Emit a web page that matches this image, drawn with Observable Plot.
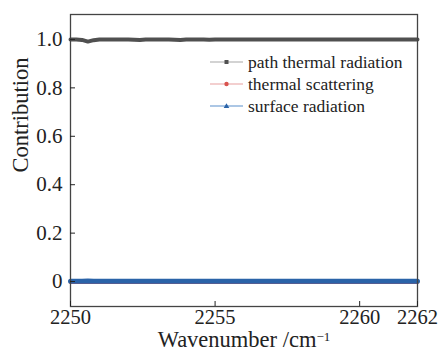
<!DOCTYPE html>
<html><head><meta charset="utf-8">
<script src="https://cdn.jsdelivr.net/npm/d3@7"></script>
<script src="https://cdn.jsdelivr.net/npm/@observablehq/plot@0.6"></script>
<style>
body{margin:0;background:#fff;}
#wrap{position:relative;width:442px;height:357px;font-family:"Liberation Serif",serif;}
#wrap svg text{font-family:"Liberation Serif",serif;}
#legend{position:absolute;left:205px;top:50px;}
</style></head><body>
<div id="wrap"></div>
<script>
const wavenumber = [2250.0,2250.2,2250.4,2250.6,2250.8,2251.0,2251.2,2251.4,2251.6,2251.8,
2252.0,2252.2,2252.4,2252.6,2252.8,2253.0,2253.2,2253.4,2253.6,2253.8,
2254.0,2254.2,2254.4,2254.6,2254.8,2255.0,2255.2,2255.4,2255.6,2255.8,
2256.0,2256.2,2256.4,2256.6,2256.8,2257.0,2257.2,2257.4,2257.6,2257.8,
2258.0,2258.2,2258.4,2258.6,2258.8,2259.0,2259.2,2259.4,2259.6,2259.8,
2260.0,2260.2,2260.4,2260.6,2260.8,2261.0,2261.2,2261.4,2261.6,2261.8,2262.0];
const pathThermal = [1.000,1.000,0.998,0.991,0.997,1.000,1.000,1.000,1.000,1.000,
1.000,0.999,0.998,1.000,1.000,1.000,1.000,1.000,0.999,0.998,
1.000,1.000,1.000,1.000,0.999,1.000,1.000,1.000,1.000,1.000,
1.000,1.000,1.000,1.000,1.000,1.000,1.000,1.000,1.000,1.000,
1.000,1.000,1.000,1.000,1.000,1.000,1.000,1.000,1.000,1.000,
1.000,1.000,1.000,1.000,1.000,1.000,1.000,1.000,1.000,1.000,1.000];
const thermalScattering = [-0.004,-0.004,-0.004,-0.004,-0.004,-0.004,-0.004,-0.004,-0.004,-0.004,
-0.004,-0.004,-0.004,-0.004,-0.004,-0.004,-0.004,-0.004,-0.004,-0.004,
-0.004,-0.004,-0.004,-0.004,-0.004,-0.004,-0.004,-0.004,-0.004,-0.004,
-0.004,-0.004,-0.004,-0.004,-0.004,-0.004,-0.004,-0.004,-0.004,-0.004,
-0.004,-0.004,-0.004,-0.004,-0.004,-0.004,-0.004,-0.004,-0.004,-0.004,
-0.004,-0.004,-0.004,-0.004,-0.004,-0.004,-0.004,-0.004,-0.004,-0.004,-0.004];
const surfaceRadiation = [0.001,0.001,0.001,0.002,0.001,0.001,0.001,0.001,0.001,0.001,
0.001,0.001,0.001,0.001,0.001,0.001,0.001,0.001,0.001,0.001,
0.001,0.001,0.001,0.001,0.001,0.001,0.001,0.001,0.001,0.001,
0.001,0.001,0.001,0.001,0.001,0.001,0.001,0.001,0.001,0.001,
0.001,0.001,0.001,0.001,0.001,0.001,0.001,0.001,0.001,0.001,
0.001,0.001,0.001,0.001,0.001,0.001,0.001,0.001,0.001,0.001,0.001];
const seriesNames = ["path thermal radiation","thermal scattering","surface radiation"];
const xTicks = [2250,2255,2260,2262];
const yTicks = [0,0.2,0.4,0.6,0.8,1.0];
const yTickLabels = ["0","0.2","0.4","0.6","0.8","1.0"];
const xLabelBase = "Wavenumber /cm";
const xLabelSup = "−1";
const yLabel = "Contribution";

const rows = (vals) => wavenumber.map((x,i)=>({x, y: vals[i]}));
const FONT = "Liberation Serif, serif";

const chart = Plot.plot({
  width: 442, height: 357,
  marginLeft: 70, marginRight: 25, marginTop: 14, marginBottom: 51,
  style: {fontFamily: FONT, fontSize: "21px", color: "#222", background: "#fff"},
  x: {domain: [2250, 2262]},
  y: {domain: [-0.103, 1.103]},
  marks: [
    Plot.line(rows(pathThermal), {x: "x", y: "y", stroke: "#505050", strokeWidth: 4}),
    Plot.line(rows(thermalScattering), {x: "x", y: "y", stroke: "#d9534f", strokeWidth: 3}),
    Plot.line(rows(surfaceRadiation), {x: "x", y: "y", stroke: "#2a63a8", strokeWidth: 5}),
    Plot.frame({stroke: "#444", strokeWidth: 1.3}),
    Plot.axisX({ticks: xTicks, tickSize: -5, tickPadding: 8, tickFormat: d => String(d),
      label: null, fontSize: 20.5, fontFamily: FONT}),
    Plot.axisY({ticks: yTicks, tickSize: -5, tickPadding: 13,
      tickFormat: d => yTickLabels[yTicks.indexOf(d)],
      label: null, fontSize: 21, fontFamily: FONT}),
    Plot.text([xLabelBase], {text: d => d, frameAnchor: "bottom", dy: 40, fontSize: 22.5, fontFamily: FONT, fill: "#222", className: "xlab"}),
    Plot.text([yLabel], {text: d => d, frameAnchor: "left", dx: -50, dy: 12, rotate: -90, fontSize: 22.5, fontFamily: FONT, fill: "#222"})
  ]
});
// add superscript to x label as a tspan (kept as real text)
d3.select(chart).selectAll("g.xlab text").each(function(){
  const t = d3.select(this);
  t.append("tspan").attr("dy", "-0.45em").attr("font-size", "13px").text(xLabelSup);
});
document.getElementById("wrap").appendChild(chart);

// legend
const colors = ["#505050","#d9534f","#2a63a8"];
const lineColors = ["#a8a8a8","#e8a0a0","#5a8fcc"];
const lg = d3.create("svg").attr("id","legend").attr("width",220).attr("height",70);
seriesNames.forEach((name,i)=>{
  const cy = 12 + i*22;
  const g = lg.append("g").attr("transform",`translate(0,${cy})`);
  g.append("line").attr("x1",5).attr("x2",38).attr("y1",0).attr("y2",0).attr("stroke",lineColors[i]).attr("stroke-width",1.2);
  if(i===0) g.append("rect").attr("x",19.5).attr("y",-2).attr("width",4).attr("height",4).attr("fill",colors[i]);
  if(i===1) g.append("circle").attr("cx",21.5).attr("cy",0).attr("r",2.2).attr("fill",colors[i]);
  if(i===2) g.append("path").attr("d","M21.5,-2.8L24.3,2L18.7,2Z").attr("fill",colors[i]);
  g.append("text").attr("x",43).attr("y",0).attr("dy","0.35em").attr("font-size","17.5px")
    .attr("font-family",FONT).attr("fill","#222").text(name);
});
document.getElementById("wrap").appendChild(lg.node());
</script>
</body></html>
